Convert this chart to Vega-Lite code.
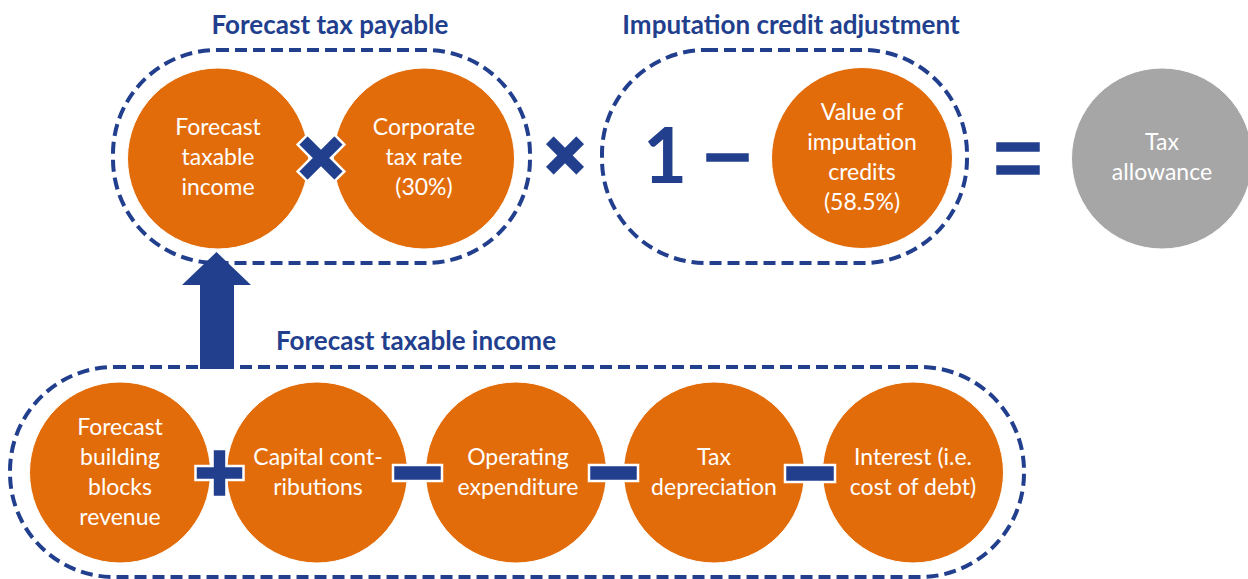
{
  "$schema": "https://vega.github.io/schema/vega-lite/v6.json",
  "width": 1248,
  "height": 579,
  "padding": 0,
  "autosize": {"type": "none"},
  "config": {"view": {"stroke": null}},
  "layer": [
    {
      "data": {"values": [
        {"x": 113, "x2": 530, "y": 50, "y2": 263, "group": "Forecast tax payable"},
        {"x": 602, "x2": 967, "y": 50, "y2": 263, "group": "Imputation credit adjustment"},
        {"x": 10, "x2": 1024, "y": 367, "y2": 577, "group": "Forecast taxable income"}
      ]},
      "mark": {"type": "rect", "fill": null, "fillOpacity": 0, "stroke": "#223F8E", "strokeWidth": 4, "strokeDash": [12, 6], "cornerRadius": 104},
      "encoding": {
        "x": {"field": "x", "type": "quantitative", "scale": {"domain": [0, 1248]}, "axis": null},
        "x2": {"field": "x2"},
        "y": {"field": "y", "type": "quantitative", "scale": {"domain": [0, 579], "reverse": true}, "axis": null},
        "y2": {"field": "y2"}
      }
    },
    {
      "data": {"values": [
        {"x": 218, "y": 158.5, "kind": "input"},
        {"x": 424, "y": 158.5, "kind": "input"},
        {"x": 862, "y": 158, "kind": "input"},
        {"x": 1162, "y": 158.5, "kind": "result"},
        {"x": 120, "y": 472.5, "kind": "input"},
        {"x": 317, "y": 472.5, "kind": "input"},
        {"x": 516, "y": 472.5, "kind": "input"},
        {"x": 714, "y": 472.5, "kind": "input"},
        {"x": 913, "y": 472.5, "kind": "input"}
      ]},
      "mark": {"type": "point", "shape": "circle", "filled": true, "opacity": 1, "size": 32761, "stroke": "white", "strokeWidth": 1},
      "encoding": {
        "x": {"field": "x", "type": "quantitative", "scale": {"domain": [0, 1248]}, "axis": null},
        "y": {"field": "y", "type": "quantitative", "scale": {"domain": [0, 579], "reverse": true}, "axis": null},
        "color": {"field": "kind", "type": "nominal", "scale": {"domain": ["input", "result"], "range": ["#E36C0A", "#A6A6A6"]}, "legend": null}
      }
    },
    {
      "data": {"values": [{"x": 200, "x2": 234, "y": 284, "y2": 369}]},
      "mark": {"type": "rect", "fill": "#223F8E"},
      "encoding": {
        "x": {"field": "x", "type": "quantitative", "scale": {"domain": [0, 1248]}, "axis": null},
        "x2": {"field": "x2"},
        "y": {"field": "y", "type": "quantitative", "scale": {"domain": [0, 579], "reverse": true}, "axis": null},
        "y2": {"field": "y2"}
      }
    },
    {
      "data": {"values": [{"x": 216.5, "y": 268.5}]},
      "mark": {"type": "point", "shape": "M -1 0.478 L 0 -0.478 L 1 0.478 Z", "filled": true, "opacity": 1, "color": "#223F8E", "size": 4761},
      "encoding": {
        "x": {"field": "x", "type": "quantitative", "scale": {"domain": [0, 1248]}, "axis": null},
        "y": {"field": "y", "type": "quantitative", "scale": {"domain": [0, 579], "reverse": true}, "axis": null}
      }
    },
    {
      "data": {"values": [{"x": 321, "y": 158}]},
      "mark": {"type": "point", "shape": "M -0.27 -1 L 0.27 -1 L 0.27 -0.27 L 1 -0.27 L 1 0.27 L 0.27 0.27 L 0.27 1 L -0.27 1 L -0.27 0.27 L -1 0.27 L -1 -0.27 L -0.27 -0.27 Z", "filled": true, "opacity": 1, "fill": "#223F8E", "stroke": "white", "strokeWidth": 2.5, "angle": 45, "size": 2704},
      "encoding": {
        "x": {"field": "x", "type": "quantitative", "scale": {"domain": [0, 1248]}, "axis": null},
        "y": {"field": "y", "type": "quantitative", "scale": {"domain": [0, 579], "reverse": true}, "axis": null}
      }
    },
    {
      "data": {"values": [{"x": 565, "y": 155.5}]},
      "mark": {"type": "point", "shape": "M -0.27 -1 L 0.27 -1 L 0.27 -0.27 L 1 -0.27 L 1 0.27 L 0.27 0.27 L 0.27 1 L -0.27 1 L -0.27 0.27 L -1 0.27 L -1 -0.27 L -0.27 -0.27 Z", "filled": true, "opacity": 1, "fill": "#223F8E", "stroke": "white", "strokeWidth": 1, "angle": 45, "size": 1936},
      "encoding": {
        "x": {"field": "x", "type": "quantitative", "scale": {"domain": [0, 1248]}, "axis": null},
        "y": {"field": "y", "type": "quantitative", "scale": {"domain": [0, 579], "reverse": true}, "axis": null}
      }
    },
    {
      "data": {"values": [{"x": 219.5, "y": 473}]},
      "mark": {"type": "point", "shape": "M -0.29 -1 L 0.29 -1 L 0.29 -0.29 L 1 -0.29 L 1 0.29 L 0.29 0.29 L 0.29 1 L -0.29 1 L -0.29 0.29 L -1 0.29 L -1 -0.29 L -0.29 -0.29 Z", "filled": true, "opacity": 1, "fill": "#223F8E", "stroke": "white", "strokeWidth": 2.5, "size": 2304},
      "encoding": {
        "x": {"field": "x", "type": "quantitative", "scale": {"domain": [0, 1248]}, "axis": null},
        "y": {"field": "y", "type": "quantitative", "scale": {"domain": [0, 579], "reverse": true}, "axis": null}
      }
    },
    {
      "data": {"values": [
        {"x": 705, "x2": 750, "y": 152, "y2": 163},
        {"x": 995, "x2": 1041, "y": 141, "y2": 153},
        {"x": 995, "x2": 1041, "y": 164, "y2": 176},
        {"x": 393, "x2": 442, "y": 465, "y2": 481},
        {"x": 589, "x2": 638, "y": 465, "y2": 481},
        {"x": 785, "x2": 835, "y": 465, "y2": 482}
      ]},
      "mark": {"type": "rect", "fill": "#223F8E", "stroke": "white", "strokeWidth": 2.5},
      "encoding": {
        "x": {"field": "x", "type": "quantitative", "scale": {"domain": [0, 1248]}, "axis": null},
        "x2": {"field": "x2"},
        "y": {"field": "y", "type": "quantitative", "scale": {"domain": [0, 579], "reverse": true}, "axis": null},
        "y2": {"field": "y2"}
      }
    },
    {
      "data": {"values": [{"x": 665, "y": 160, "text": "1"}]},
      "mark": {"type": "text", "font": "Lato", "fontWeight": "bold", "fontSize": 76, "color": "#223F8E", "baseline": "middle", "align": "center"},
      "encoding": {
        "x": {"field": "x", "type": "quantitative", "scale": {"domain": [0, 1248]}, "axis": null},
        "y": {"field": "y", "type": "quantitative", "scale": {"domain": [0, 579], "reverse": true}, "axis": null},
        "text": {"field": "text"}
      }
    },
    {
      "data": {"values": [
        {"x": 330, "y": 26, "text": "Forecast tax payable"},
        {"x": 791, "y": 26, "text": "Imputation credit adjustment"},
        {"x": 416, "y": 342, "text": "Forecast taxable income"}
      ]},
      "mark": {"type": "text", "font": "Lato", "fontWeight": "bold", "fontSize": 26, "color": "#223F8E", "baseline": "middle", "align": "center"},
      "encoding": {
        "x": {"field": "x", "type": "quantitative", "scale": {"domain": [0, 1248]}, "axis": null},
        "y": {"field": "y", "type": "quantitative", "scale": {"domain": [0, 579], "reverse": true}, "axis": null},
        "text": {"field": "text"}
      }
    },
    {
      "data": {"values": [
        {"x": 218, "y": 128, "text": "Forecast"},
        {"x": 218, "y": 158, "text": "taxable"},
        {"x": 218, "y": 188, "text": "income"},
        {"x": 424, "y": 128, "text": "Corporate"},
        {"x": 424, "y": 158, "text": "tax rate"},
        {"x": 424, "y": 188, "text": "(30%)"},
        {"x": 862, "y": 113, "text": "Value of"},
        {"x": 862, "y": 143, "text": "imputation"},
        {"x": 862, "y": 173, "text": "credits"},
        {"x": 862, "y": 203, "text": "(58.5%)"},
        {"x": 1162, "y": 143, "text": "Tax"},
        {"x": 1162, "y": 173, "text": "allowance"},
        {"x": 120, "y": 428, "text": "Forecast"},
        {"x": 120, "y": 458, "text": "building"},
        {"x": 120, "y": 488, "text": "blocks"},
        {"x": 120, "y": 518, "text": "revenue"},
        {"x": 318, "y": 458, "text": "Capital cont-"},
        {"x": 318, "y": 488, "text": "ributions"},
        {"x": 518, "y": 458, "text": "Operating"},
        {"x": 518, "y": 488, "text": "expenditure"},
        {"x": 714, "y": 458, "text": "Tax"},
        {"x": 714, "y": 488, "text": "depreciation"},
        {"x": 913, "y": 458, "text": "Interest (i.e."},
        {"x": 913, "y": 488, "text": "cost of debt)"}
      ]},
      "mark": {"type": "text", "font": "Lato", "fontSize": 23, "color": "#FFFFFF", "baseline": "middle", "align": "center"},
      "encoding": {
        "x": {"field": "x", "type": "quantitative", "scale": {"domain": [0, 1248]}, "axis": null},
        "y": {"field": "y", "type": "quantitative", "scale": {"domain": [0, 579], "reverse": true}, "axis": null},
        "text": {"field": "text"}
      }
    }
  ]
}
